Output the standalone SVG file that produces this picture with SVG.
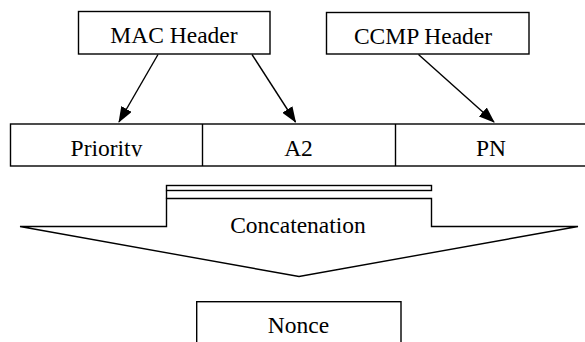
<svg xmlns="http://www.w3.org/2000/svg" width="585" height="342" viewBox="0 0 585 342">
<style>
.b{fill:#fff;stroke:#000;stroke-width:1.4}
.t{font-family:"Liberation Serif","Times New Roman",serif;font-size:23.5px;fill:#000;text-anchor:middle}
.c{stroke:#000;stroke-width:1.4;fill:none}
</style>
<defs>
<marker id="ah" markerWidth="16" markerHeight="12" refX="15" refY="6" orient="auto" markerUnits="userSpaceOnUse">
<path d="M0,0 L16,6 L0,12 Z" fill="#000"/>
</marker>
<clipPath id="rowclip"><rect x="0" y="124" width="585" height="32.5"/></clipPath>
</defs>
<rect width="585" height="342" fill="#fff"/>
<g id="mac-header">
<rect class="b" x="78.5" y="11.5" width="191.5" height="42.5"/>
<text class="t" x="174" y="43">MAC Header</text>
</g>
<g id="ccmp-header">
<rect class="b" x="326.5" y="12.5" width="202.5" height="41.5"/>
<text class="t" x="423" y="44">CCMP Header</text>
</g>
<g id="fields">
<rect class="b" x="10.5" y="124" width="580" height="42"/>
<line class="c" x1="202.5" y1="124" x2="202.5" y2="166"/>
<line class="c" x1="395.5" y1="124" x2="395.5" y2="166"/>
<g clip-path="url(#rowclip)">
<text class="t" x="106.5" y="156">Priority</text>
<text class="t" x="298.5" y="156">A2</text>
<text class="t" x="491" y="156">PN</text>
</g>
</g>
<g id="concatenation">
<rect class="b" x="166.5" y="185.5" width="265" height="5"/>
<line class="c" x1="166.5" y1="190.5" x2="166.5" y2="198.5"/>
<path class="b" d="M166.5,198.5 H431.5 V226.5 H578 L299,276.5 L20,226.5 H166.5 Z"/>
<text class="t" x="298" y="233">Concatenation</text>
</g>
<g id="nonce">
<rect class="b" x="196.7" y="301.7" width="204.3" height="50"/>
<text class="t" x="298.5" y="332.5">Nonce</text>
</g>
<g id="connectors">
<line class="c" x1="158" y1="54.5" x2="119" y2="122" marker-end="url(#ah)"/>
<line class="c" x1="252" y1="54.5" x2="295.5" y2="122" marker-end="url(#ah)"/>
<line class="c" x1="418.5" y1="54.5" x2="494" y2="122" marker-end="url(#ah)"/>
</g>
</svg>
